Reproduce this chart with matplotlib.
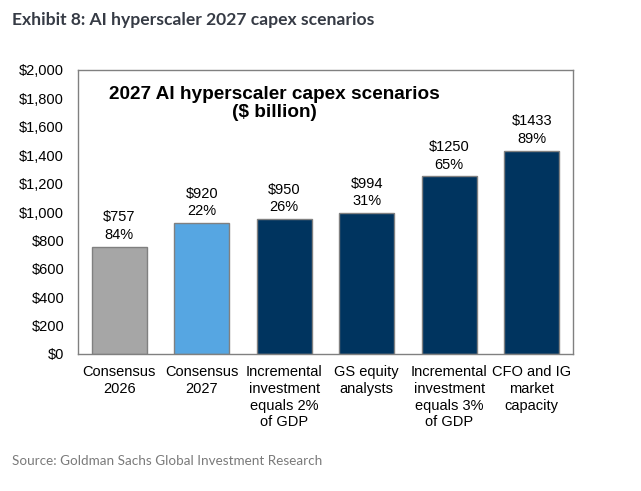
import numpy as np
import matplotlib.pyplot as plt

plt.rcParams['font.family'] = ['Liberation Sans', 'DejaVu Sans']

categories = ['Consensus\n2026', 'Consensus\n2027', 'Incremental\ninvestment\nequals 2%\nof GDP',
              'GS equity\nanalysts', 'Incremental\ninvestment\nequals 3%\nof GDP', 'CFO and IG\nmarket\ncapacity']
values = [757, 920, 950, 994, 1250, 1433]
growth = ['84%', '22%', '26%', '31%', '65%', '89%']
colors = ['#a6a6a6', '#56a6e2', '#00345f', '#00345f', '#00345f', '#00345f']

fig = plt.figure(figsize=(6.41, 4.91), dpi=100)
ax = fig.add_axes([78/641, 1-354/491, 495/641, 284/491])

x = np.arange(len(values))
ax.bar(x, values, width=0.67, color=colors, edgecolor='#808080', linewidth=1)
for i, v in enumerate(values):
    ax.text(i, v + 35, '$%d\n%s' % (v, growth[i]), ha='center', va='bottom',
            fontsize=10.5, linespacing=1.3, color='#000000')

ax.set_xlim(-0.5, len(values) - 0.5)
ax.set_ylim(0, 2000)
ax.set_yticks(np.arange(0, 2001, 200))
ax.set_yticklabels(['$%s' % format(t, ',') for t in range(0, 2001, 200)], fontsize=10.5)
ax.set_xticks(x)
ax.set_xticklabels(categories, fontsize=10.5, linespacing=1.25)
ax.tick_params(axis='both', length=0)
ax.tick_params(axis='y', pad=10)
ax.tick_params(axis='x', pad=8)
for s in ax.spines.values():
    s.set_color('#808080')
    s.set_linewidth(1)

ax.text(0.396, 0.882, '2027 AI hyperscaler capex scenarios\n($ billion)', transform=ax.transAxes,
        ha='center', va='center', fontsize=13.7, fontweight='bold', linespacing=1.15)

fig.text(12/641, 1-20/491, 'Exhibit 8: AI hyperscaler 2027 capex scenarios', fontsize=12.6,
         fontweight='bold', color='#363b45', family=['Lato', 'DejaVu Sans'], va='center')
fig.text(12/641, 1-461/491, 'Source: Goldman Sachs Global Investment Research', fontsize=9.7,
         color='#7a7a7a', family=['Lato', 'DejaVu Sans'], va='center')

fig.savefig('out.png', dpi=100)
